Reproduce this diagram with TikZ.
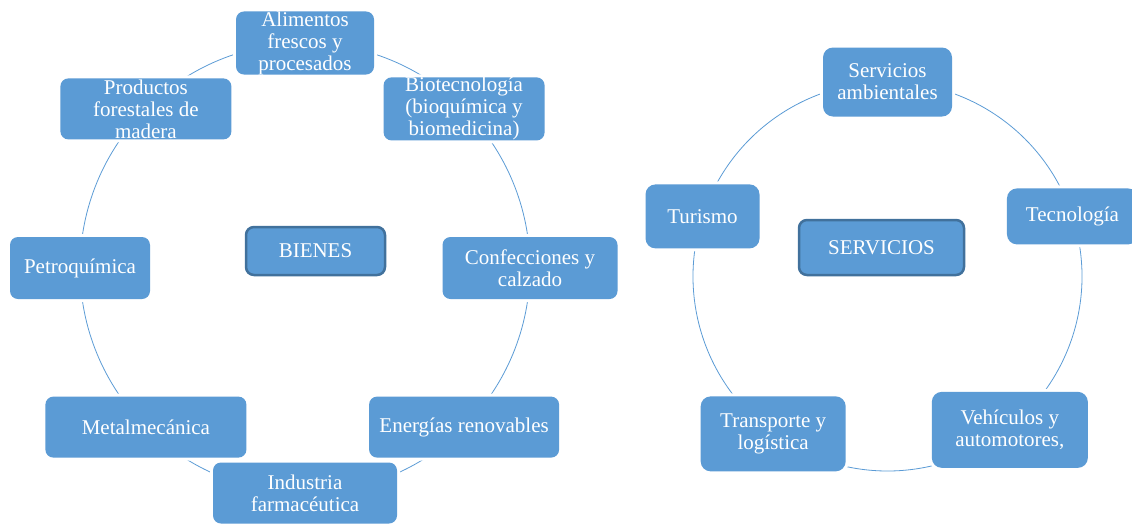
\documentclass[tikz,border=0pt]{standalone}
\usepackage{fontspec}
\setmainfont{Liberation Serif}
\usetikzlibrary{backgrounds}
\definecolor{sblue}{HTML}{5B9BD5}
\definecolor{sdark}{HTML}{41719C}
\tikzset{
  box/.style={rectangle, rounded corners=8pt, fill=sblue, text=white, align=center,
    inner sep=0pt, font=\fontsize{21}{22}\selectfont,
    preaction={draw=white, line width=6pt}},
  rbox/.style={box, rounded corners=10pt},
  sz/.style 2 args={minimum width=#1pt, minimum height=#2pt},
  hub/.style={rectangle, rounded corners=8pt, fill=sblue, draw=sdark, line width=2.5pt,
    text=white, align=center, inner sep=0pt, font=\fontsize{21}{22}\selectfont},
  link/.style={draw=sblue, line width=0.8pt}
}
\begin{document}
\begin{tikzpicture}[x=1pt,y=1pt]
\useasboundingbox (0,0) rectangle (1132,-523);
% ---------- BIENES ----------
\coordinate (cL) at (305,-268);
\node[box, sz={138}{61}] (alim) at ([shift={(90:225)}]cL) {Alimentos\\frescos y\\procesados};
\node[box, sz={161}{61}] (bio) at ([shift={(45:225)}]cL) {Biotecnología\\(bioquímica y\\biomedicina)};
\node[box, sz={175}{62}] (conf) at ([shift={(0:225)}]cL) {Confecciones y\\calzado};
\node[box, sz={190}{61}] (ener) at ([shift={(-45:225)}]cL) {Energías renovables};
\node[box, sz={184}{61}] (ind) at ([shift={(-90:225)}]cL) {Industria\\farmacéutica};
\node[box, sz={201}{61}] (metal) at ([shift={(-135:225)}]cL) {Metalmecánica};
\node[box, sz={140}{62}] (petro) at ([shift={(180:225)}]cL) {Petroquímica};
\node[box, sz={171}{61}] (prod) at ([shift={(135:225)}]cL) {Productos\\forestales de\\madera};
\node[hub, sz={139}{48}] (bienes) at (315.5,-251) {BIENES};
% ---------- SERVICIOS ----------
\coordinate (cR) at (887.5,-276.5);
\node[rbox, sz={129}{69}] (serv) at ([shift={(90:194.5)}]cR) {Servicios\\ambientales};
\node[rbox, sz={131}{56}] (tec) at ([shift={(18:194.5)}]cR) {Tecnología};
\node[rbox, sz={156}{76}] (veh) at ([shift={(-54:194.5)}, xshift=8pt, yshift=4pt]cR) {Vehículos y\\automotores,};
\node[rbox, sz={145}{75}] (tra) at ([shift={(234:194.5)}]cR) {Transporte y\\logística};
\node[rbox, sz={114}{64}] (tur) at ([shift={(162:194.5)}]cR) {Turismo};
\node[hub, sz={165}{55}] (servicios) at (881.5,-247.5) {SERVICIOS};
% ---------- connectors ----------
\begin{pgfonlayer}{background}
\draw[link] (alim.center) arc[start angle=90, end angle=45, radius=225pt];
\draw[link] (bio.center) arc[start angle=45, end angle=0, radius=225pt];
\draw[link] (conf.center) arc[start angle=0, end angle=-45, radius=225pt];
\draw[link] (ener.center) arc[start angle=-45, end angle=-90, radius=225pt];
\draw[link] (ind.center) arc[start angle=-90, end angle=-135, radius=225pt];
\draw[link] (metal.center) arc[start angle=-135, end angle=-180, radius=225pt];
\draw[link] (petro.center) arc[start angle=180, end angle=135, radius=225pt];
\draw[link] (prod.center) arc[start angle=135, end angle=90, radius=225pt];
\draw[link] (serv.center) arc[start angle=90, end angle=18, radius=194.5pt];
\draw[link] (tec.center) arc[start angle=18, end angle=-54, radius=194.5pt];
\draw[link] (tra.center) arc[start angle=234, end angle=306, radius=194.5pt];
\draw[link] (tur.center) arc[start angle=162, end angle=234, radius=194.5pt];
\draw[link] (serv.center) arc[start angle=90, end angle=162, radius=194.5pt];
\end{pgfonlayer}
\end{tikzpicture}
\end{document}
